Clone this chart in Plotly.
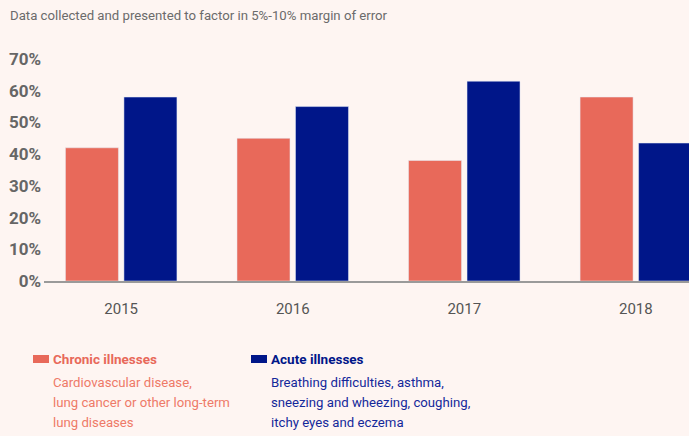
import plotly.graph_objects as go

years = ["2015", "2016", "2017", "2018"]
chronic = [0.42, 0.45, 0.38, 0.58]
acute = [0.58, 0.55, 0.63, 0.435]
y_ticks = [0, 0.1, 0.2, 0.3, 0.4, 0.5, 0.6, 0.7]

subtitle = "Data collected and presented to factor in 5%-10% margin of error"
chronic_title = "Chronic illnesses"
chronic_desc = ["Cardiovascular disease,", "lung cancer or other long-term", "lung diseases"]
acute_title = "Acute illnesses"
acute_desc = ["Breathing difficulties, asthma,", "sneezing and wheezing, coughing,", "itchy eyes and eczema"]

BG = "#FEF5F2"
RED = "#E8695A"
BLUE = "#001689"
FONT = "Roboto, sans-serif"

fig = go.Figure()
fig.add_trace(go.Bar(x=years, y=chronic, name=chronic_title, marker_color=RED))
fig.add_trace(go.Bar(x=years, y=acute, name=acute_title, marker_color=BLUE))

fig.update_layout(
    width=689, height=436,
    margin=dict(l=44, r=0, t=59, b=155),
    paper_bgcolor=BG, plot_bgcolor=BG,
    barmode="group", bargap=0.318, bargroupgap=0.094,
    showlegend=False,
    font=dict(family=FONT, color="#5a5a5a"),
)
fig.update_xaxes(
    type="category", range=[-0.45, 3.31],
    showline=True, linecolor="#9a9a9a", linewidth=1.5,
    showgrid=False, ticks="", ticklabelstandoff=13,
    tickfont=dict(size=15, color="#555555"),
)
fig.update_yaxes(
    range=[0, 0.7], tickvals=y_ticks, tickformat=".0%",
    showgrid=False, zeroline=False, ticklabelstandoff=2,
    tickfont=dict(size=17, color="#666666", family=FONT, weight="bold"),
)

# pixel helpers (plot area: x 44..689, y 59..281)
def px_x(x):
    return (x - 44) / 645


def px_y(y):
    return (281 - y) / 222


fig.add_annotation(text=subtitle, xref="paper", yref="paper", x=px_x(8), y=px_y(16),
                   xanchor="left", yanchor="middle", showarrow=False,
                   font=dict(size=13.2, color="#6b6b6b"))


def legend_block(x0, color, text_color, title, desc):
    fig.add_shape(type="rect", xref="paper", yref="paper",
                  x0=px_x(x0), x1=px_x(x0 + 16),
                  y0=px_y(363), y1=px_y(355),
                  fillcolor=color, line_width=0)
    fig.add_annotation(text="<b>" + title + "</b>", xref="paper", yref="paper",
                       x=px_x(x0 + 18), y=px_y(359),
                       xanchor="left", yanchor="middle", showarrow=False,
                       font=dict(size=13.5, color=color))
    for i, line in enumerate(desc):
        fig.add_annotation(text=line, xref="paper", yref="paper",
                           x=px_x(x0 + 18), y=px_y(382 + 20 * i),
                           xanchor="left", yanchor="middle", showarrow=False,
                           font=dict(size=13.2, color=text_color))


legend_block(33, RED, "#EE7A68", chronic_title, chronic_desc)
legend_block(251, BLUE, "#14289A", acute_title, acute_desc)

fig.write_html("out.html", config={"displayModeBar": False},
               post_script="document.body.style.margin='0';")
